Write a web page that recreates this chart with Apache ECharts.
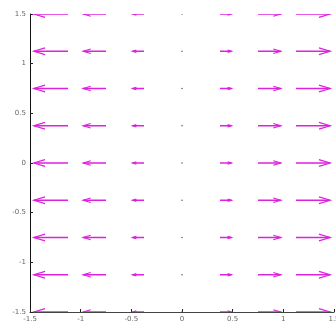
<!DOCTYPE html>
<html>
<head>
<meta charset="utf-8">
<script src="https://cdn.jsdelivr.net/npm/echarts@6/dist/echarts.min.js"></script>
<style>html,body{margin:0;padding:0;background:#fff;}#c{width:336px;height:329px;}</style>
</head>
<body>
<div id="c"></div>
<script>
// Grid positions of the quiver field
var gridX = [-1.5, -1.125, -0.75, -0.375, 0, 0.375, 0.75, 1.125, 1.5];
var gridY = [-1.5, -1.125, -0.75, -0.375, 0, 0.375, 0.75, 1.125, 1.5];
// Horizontal component per column (same in every row)
var uByColumn = [-1.5, -1.125, -0.75, -0.375, 0, 0.375, 0.75, 1.125, 1.5];
// Vertical component per column
var vByColumn = [0, 0, 0, 0, 0, 0, 0, 0, 0];
// Axis ticks
var xTicks = [-1.5, -1, -0.5, 0, 0.5, 1, 1.5];
var yTicks = [-1.5, -1, -0.5, 0, 0.5, 1, 1.5];
var arrowScale = 0.3;

var data = [];
for (var j = 0; j < gridY.length; j++) {
  for (var i = 0; i < gridX.length; i++) {
    data.push([gridX[i], gridY[j], uByColumn[i], vByColumn[i]]);
  }
}

var ARROW = '#dd22dd';
function renderItem(params, api) {
  var x = api.value(0), y = api.value(1), u = api.value(2), v = api.value(3);
  var p0 = api.coord([x, y]);
  var p1 = api.coord([x + arrowScale * u, y + arrowScale * v]);
  var dx = p1[0] - p0[0], dy = p1[1] - p0[1];
  var L = Math.sqrt(dx * dx + dy * dy);
  if (L < 0.5) {
    return {type: 'circle', shape: {cx: p0[0], cy: p0[1], r: 0.8}, style: {fill: '#666'}};
  }
  var ux = dx / L, uy = dy / L;
  var hl = 0.33 * L, hw = 0.1 * L;
  var bx = p1[0] - ux * hl, by = p1[1] - uy * hl;
  var nx = -uy, ny = ux;
  return {
    type: 'group',
    children: [
      {type: 'line', shape: {x1: p0[0], y1: p0[1], x2: p1[0], y2: p1[1]}, style: {stroke: ARROW, lineWidth: 1.5}},
      {type: 'polyline', shape: {points: [[bx + nx * hw, by + ny * hw], [p1[0], p1[1]], [bx - nx * hw, by - ny * hw]]}, style: {stroke: ARROW, lineWidth: 1.2, fill: null}}
    ]
  };
}

function fmt(v) { return String(v); }

var chart = echarts.init(document.getElementById('c'), null, {renderer: 'canvas'});
chart.setOption({
  animation: false,
  backgroundColor: '#fff',
  grid: {left: 30, right: 2, top: 14, bottom: 17, containLabel: false, outerBoundsMode: 'none'},
  xAxis: {
    type: 'value', min: -1.5, max: 1.5, interval: 0.5,
    splitLine: {show: false},
    axisLine: {show: true, onZero: false, lineStyle: {color: '#444', width: 1}},
    axisTick: {show: true, inside: true, length: 3, lineStyle: {color: '#222'}},
    axisLabel: {color: '#666', fontSize: 7, fontFamily: 'DejaVu Sans', margin: 4,
      showMinLabel: true, showMaxLabel: true, hideOverlap: false, formatter: fmt}
  },
  yAxis: {
    type: 'value', min: -1.5, max: 1.5, interval: 0.5,
    splitLine: {show: false},
    axisLine: {show: true, onZero: false, lineStyle: {color: '#111', width: 1}},
    axisTick: {show: true, inside: true, length: 3, lineStyle: {color: '#222'}},
    axisLabel: {color: '#666', fontSize: 7, fontFamily: 'DejaVu Sans', margin: 4,
      showMinLabel: true, showMaxLabel: true, formatter: fmt}
  },
  series: [{
    type: 'custom',
    renderItem: renderItem,
    clip: true,
    data: data,
    encode: {x: 0, y: 1},
    z: 1
  }]
});
</script>
</body>
</html>
